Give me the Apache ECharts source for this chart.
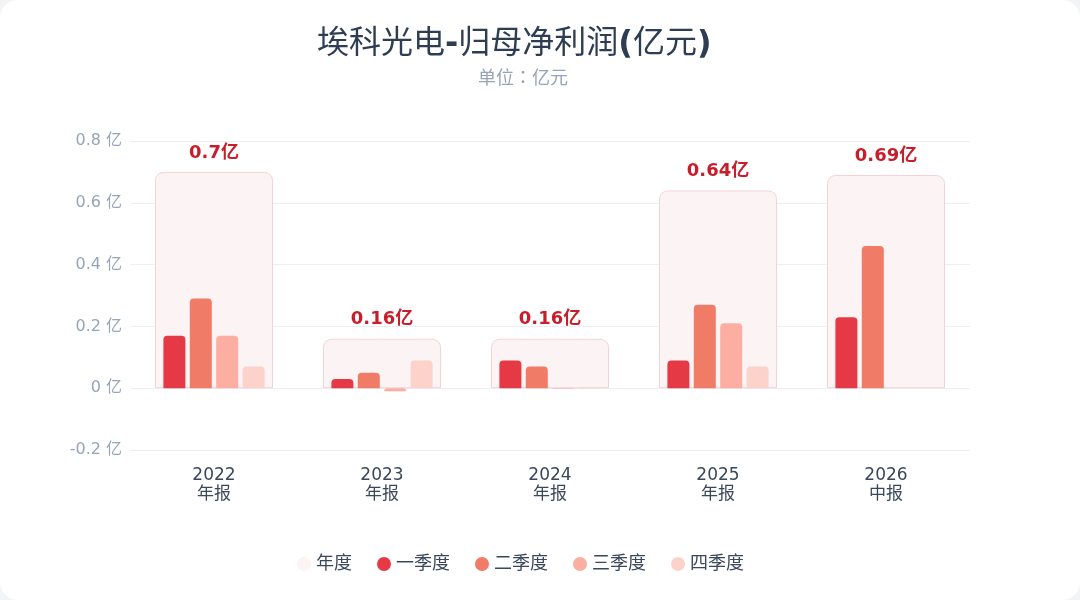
<!DOCTYPE html>
<html>
<head>
<meta charset="utf-8">
<script src="https://cdn.jsdelivr.net/npm/echarts@6/dist/echarts.min.js"></script>
<style>
html, body { margin: 0; padding: 0; background: #f3f4f6; }
#chart { width: 1080px; height: 600px; background: #fff; border-radius: 18px; overflow: hidden; }
</style>
</head>
<body>
<div id="chart"></div>
<script>
// data
var years = ['2022', '2023', '2024', '2025', '2026'];
var reportTypes = ['年报', '年报', '年报', '年报', '中报'];
var annual = [0.70, 0.16, 0.16, 0.64, 0.69];
var q1 = [0.17, 0.03, 0.09, 0.09, 0.23];
var q2 = [0.29, 0.05, 0.07, 0.27, 0.46];
var q3 = [0.17, -0.01, -0.002, 0.21, null];
var q4 = [0.07, 0.09, -0.002, 0.07, null];
var seriesNames = ['年度', '一季度', '二季度', '三季度', '四季度'];
var colors = ['#fbf3f4', '#e63946', '#f07b67', '#fcaea2', '#fdd2ca'];

var FONT = '"DejaVu Sans", "Noto Sans CJK SC", sans-serif';
var CJK = '"Noto Sans CJK TC", "Noto Sans CJK SC", sans-serif';

var categories = [];
for (var i = 0; i < years.length; i++) {
	categories.push(years[i] + '\n' + reportTypes[i]);
}

var chart = echarts.init(document.getElementById('chart'));

function quarterSeries(idx, data) {
	return {
		name: seriesNames[idx],
		type: 'bar',
		xAxisIndex: 1,
		data: data,
		barWidth: 22,
		barGap: '20%',
		itemStyle: { color: colors[idx], borderRadius: [4, 4, 0, 0] },
		z: 3
	};
}

var titleColor = '#2e3d52';

var option = {
	backgroundColor: '#fff',
	color: colors,
	textStyle: { fontFamily: FONT },
	title: [{
		// the dash and brackets look bold in the reference
		text: '埃科光电{b|-}归母净利润{b|(}亿元{b|)}',
		left: 312,
		top: 24,
		textStyle: {
			fontSize: 32, fontWeight: 'normal', color: titleColor, fontFamily: FONT,
			rich: { b: { fontSize: 32, fontWeight: 'bold', color: titleColor, fontFamily: FONT } }
		}
	}, {
		text: '单位：亿元',
		left: 473,
		top: 63,
		textStyle: { fontSize: 18, fontWeight: 'normal', color: '#98a4b8', fontFamily: CJK }
	}],
	legend: {
		bottom: 22,
		left: 292,
		icon: 'circle',
		itemWidth: 14,
		itemHeight: 14,
		itemGap: 25,
		itemStyle: { borderWidth: 0 },
		textStyle: { fontSize: 18, color: '#3b475a', fontFamily: FONT },
		data: seriesNames
	},
	grid: { left: 130, right: 110, top: 141, bottom: 150 },
	xAxis: [{
		type: 'category',
		data: categories,
		axisLine: { show: false },
		axisTick: { show: false },
		axisLabel: { fontSize: 17, color: '#3b475a', lineHeight: 19, margin: 16, fontFamily: FONT }
	}, {
		type: 'category',
		data: categories,
		show: false
	}],
	yAxis: {
		type: 'value',
		min: -0.2,
		max: 0.8,
		interval: 0.2,
		axisLine: { show: false },
		axisTick: { show: false },
		splitLine: { lineStyle: { color: '#eceef3' } },
		axisLabel: {
			fontSize: 16,
			color: '#98a4b8',
			margin: 8,
			fontFamily: FONT,
			formatter: function (v) { return Math.round(v * 10) / 10 + ' 亿'; }
		}
	},
	series: [{
		name: seriesNames[0],
		type: 'bar',
		xAxisIndex: 0,
		data: annual,
		barWidth: 118,
		itemStyle: {
			color: colors[0],
			borderColor: '#f3d3d7',
			borderWidth: 1,
			borderRadius: [8, 8, 0, 0]
		},
		label: {
			show: true,
			position: 'top',
			distance: 10,
			fontSize: 18,
			fontWeight: 'bold',
			color: '#c81e2c',
			fontFamily: FONT,
			formatter: function (p) { return p.value + '亿'; }
		},
		z: 2
	},
		quarterSeries(1, q1),
		quarterSeries(2, q2),
		quarterSeries(3, q3),
		quarterSeries(4, q4)
	]
};

chart.setOption(option);
</script>
</body>
</html>
